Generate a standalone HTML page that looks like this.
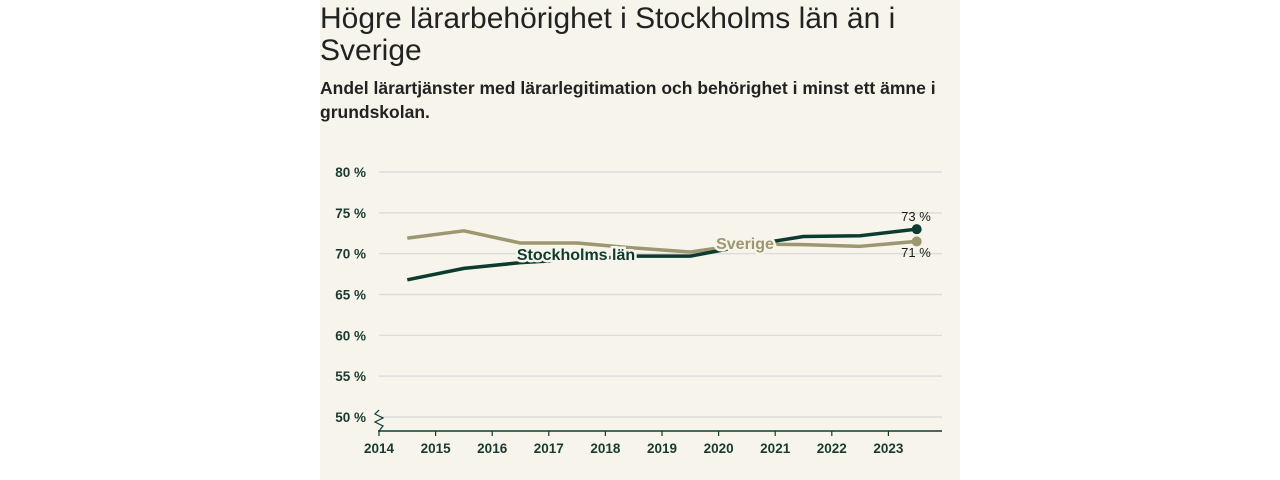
<!DOCTYPE html>
<html><head><meta charset="utf-8">
<style>
body{margin:0;width:1280px;height:480px;background:#fff;overflow:hidden;font-family:"Liberation Sans",sans-serif}
#panel{position:absolute;left:320px;top:0;width:640px;height:480px;background:#f7f5eb}
.t{position:absolute;left:0;white-space:nowrap;color:#222}
#title{top:3px;font-size:30px;line-height:32px;letter-spacing:0px}
#sub{top:76px;font-size:17.5px;line-height:24px;font-weight:bold;color:#222}
svg{position:absolute;left:0;top:0}
</style></head><body>
<div id="panel">
<div class="t" id="title">Högre lärarbehörighet i Stockholms län än i<br>Sverige</div>
<div class="t" id="sub">Andel lärartjänster med lärarlegitimation och behörighet i minst ett ämne i<br>grundskolan.</div>
</div>
<svg id="chart" width="1280" height="480"></svg>
<script>
const years=[2014,2015,2016,2017,2018,2019,2020,2021,2022,2023];
const yTicks=[50,55,60,65,70,75,80];
const stockholm=[66.8,68.2,68.9,69.3,69.7,69.7,71.0,72.1,72.2,73.0];
const sverige=[71.9,72.8,71.3,71.3,70.7,70.2,71.2,71.1,70.9,71.5];
const NS="http://www.w3.org/2000/svg";
const svg=document.getElementById('chart');
const xS=v=>379+(v-2014)*56.6;
const yS=v=>417-(v-50)*245/30;
function mk(tag,attrs,parent){const e=document.createElementNS(NS,tag);for(const k in attrs)e.setAttribute(k,attrs[k]);(parent||svg).appendChild(e);return e;}
yTicks.forEach(t=>{
  const g=mk('line',{x1:379,x2:942,y1:yS(t),y2:yS(t),stroke:'#dcdcdc','stroke-width':1.5});
  
  
  const l=mk('text',{x:366,y:yS(t)+5,'text-anchor':'end','font-size':13.5,'font-weight':'bold',fill:'#1a3a30'});
  l.textContent=t+' %';
  
  
});
const ax=mk('line',{x1:378,x2:942,y1:431,y2:431,stroke:'#0d3b30','stroke-width':1.5});


const br=mk('path',{d:'M379 410 L375 414 L383 418 L375 422 L383 426 L379 431',fill:'none',stroke:'#0d3b30','stroke-width':1.2});


years.forEach(y=>{
  mk('line',{x1:xS(y),x2:xS(y),y1:431,y2:436,stroke:'#0d3b30','stroke-width':1.2});
  const l=mk('text',{x:xS(y),y:453,'text-anchor':'middle','font-size':13.5,'font-weight':'bold',fill:'#1a3a30'});
  l.textContent=y;
  
  
});
function series(vals,color,name){
  const d=vals.map((v,i)=>(i?'L':'M')+xS(years[i]+0.5)+' '+yS(v)).join(' ');
  const p=mk('path',{d:d,fill:'none',stroke:color,'stroke-width':3.5,'stroke-linejoin':'round'});
  
  
  const n=vals.length-1;
  const c=mk('circle',{cx:xS(years[n]+0.5),cy:yS(vals[n]),r:5,fill:color});
  
  
}
series(sverige,'#9c9770','sverige');
series(stockholm,'#0d3b30','stockholm');
function lbl(txt,x,y,color,name,size,bg,w){
  const t=mk('text',{x:x,y:y,'font-size':size,fill:color,'text-anchor':'middle','font-weight':w});
  t.textContent=txt;
  if(bg){t.setAttribute('stroke','#f7f5eb');t.setAttribute('stroke-width',5);t.setAttribute('paint-order','stroke');}
  
  
}
lbl('Stockholms län',576,260,'#0d3b30','stockholm-label',16,true,'bold');
lbl('Sverige',745,249,'#9c9770','sverige-label',16,true,'bold');
lbl('73 %',916,221,'#1a1a1a','stockholm-value-label',13,false,'normal');
lbl('71 %',916,257,'#1a1a1a','sverige-value-label',13,false,'normal');
</script>
</body></html>
